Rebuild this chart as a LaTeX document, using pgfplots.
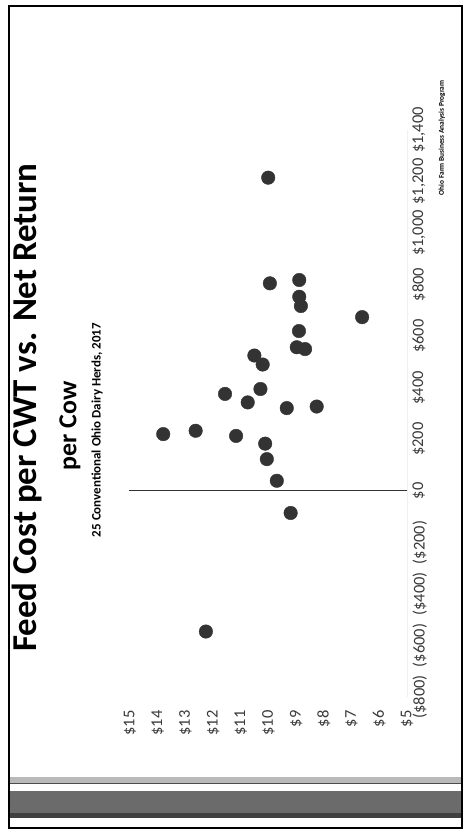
\documentclass[border=0pt]{standalone}
\usepackage{pgfplots}
\pgfplotsset{compat=1.18}
\usepackage{fontspec}
\setmainfont{Carlito}

\definecolor{dot}{HTML}{333333}
\definecolor{txt}{HTML}{3A3A3A}

% feed cost per cwt ($) vs. net return per cow ($)
\pgfplotstableread{
feed nr
10.01 1215
9.95 805
8.89 818
8.89 753
8.83 717
6.62 674
8.90 620
8.98 557
8.68 550
10.51 525
10.21 490
10.29 395
11.57 376
10.75 343
9.34 321
8.26 327
13.80 220
12.63 233
11.17 213
10.12 183
10.06 123
9.70 39
9.20 -86
12.26 -546
}\herds

\begin{document}
\begin{tikzpicture}
\fill[white] (0,0) rectangle (466bp,835bp);

% slide frame and bottom bars
\fill[gray!55] (9bp,51bp) rectangle (462bp,58bp);
\draw[black!70, line width=1bp] (9bp,51.5bp) -- (462bp,51.5bp);
\fill[black!58] (9bp,17bp) rectangle (462bp,44bp);
\fill[black!75] (9bp,17bp) rectangle (462bp,22bp);
\draw[line width=2.5bp] (9bp,7bp) rectangle (462bp,829bp);

% titles (slide is turned on its side)
\node[rotate=90, font=\bfseries\fontsize{35}{40}\selectfont] at (27bp,427.5bp) {Feed Cost per CWT vs. Net Return};
\node[rotate=90, font=\bfseries\fontsize{26}{30}\selectfont] at (70bp,409bp) {per Cow};
\node[rotate=90, font=\bfseries\fontsize{13}{15}\selectfont] at (97bp,405bp) {25 Conventional Ohio Dairy Herds, 2017};
\node[rotate=90, font=\bfseries\fontsize{7.4}{8}\selectfont] at (442bp,697bp) {Ohio Farm Business Analysis Program};

\begin{axis}[
    at={(268.5bp,421.5bp)}, anchor=center,
    scale only axis, width=277bp, height=567bp,
    x dir=reverse,
    xmin=5, xmax=15, ymin=-800, ymax=1400,
    axis line style={draw=none},
    major tick length=0pt,
    xtick={5,...,15},
    xticklabels={\$5,\$6,\$7,\$8,\$9,\$10,\$11,\$12,\$13,\$14,\$15},
    ytick={-800,-600,...,1400},
    yticklabels={(\$800),(\$600),(\$400),(\$200),\$0,\$200,\$400,\$600,\$800,{\$1,000},{\$1,200},{\$1,400}},
    yticklabel pos=right,
    xticklabel style={rotate=90, anchor=east, font=\fontsize{16.5}{19}\selectfont, text=txt},
    yticklabel style={rotate=90, anchor=north, font=\fontsize{16.5}{19}\selectfont, text=txt},
    xticklabel shift=10bp,
    yticklabel shift=2bp,
    clip=false,
]
\addplot[gray!12, line width=0.8bp] coordinates {(5,-800) (5,1400)};
\addplot[black!80, line width=1bp] coordinates {(15.05,0) (5,0)};
\addplot[only marks, mark=*, mark size=6.8pt, draw=dot, fill=dot] table[x=feed, y=nr] {\herds};
\end{axis}

\pgfresetboundingbox
\path[use as bounding box] (0,0) rectangle (466bp,835bp);
\end{tikzpicture}
\end{document}
